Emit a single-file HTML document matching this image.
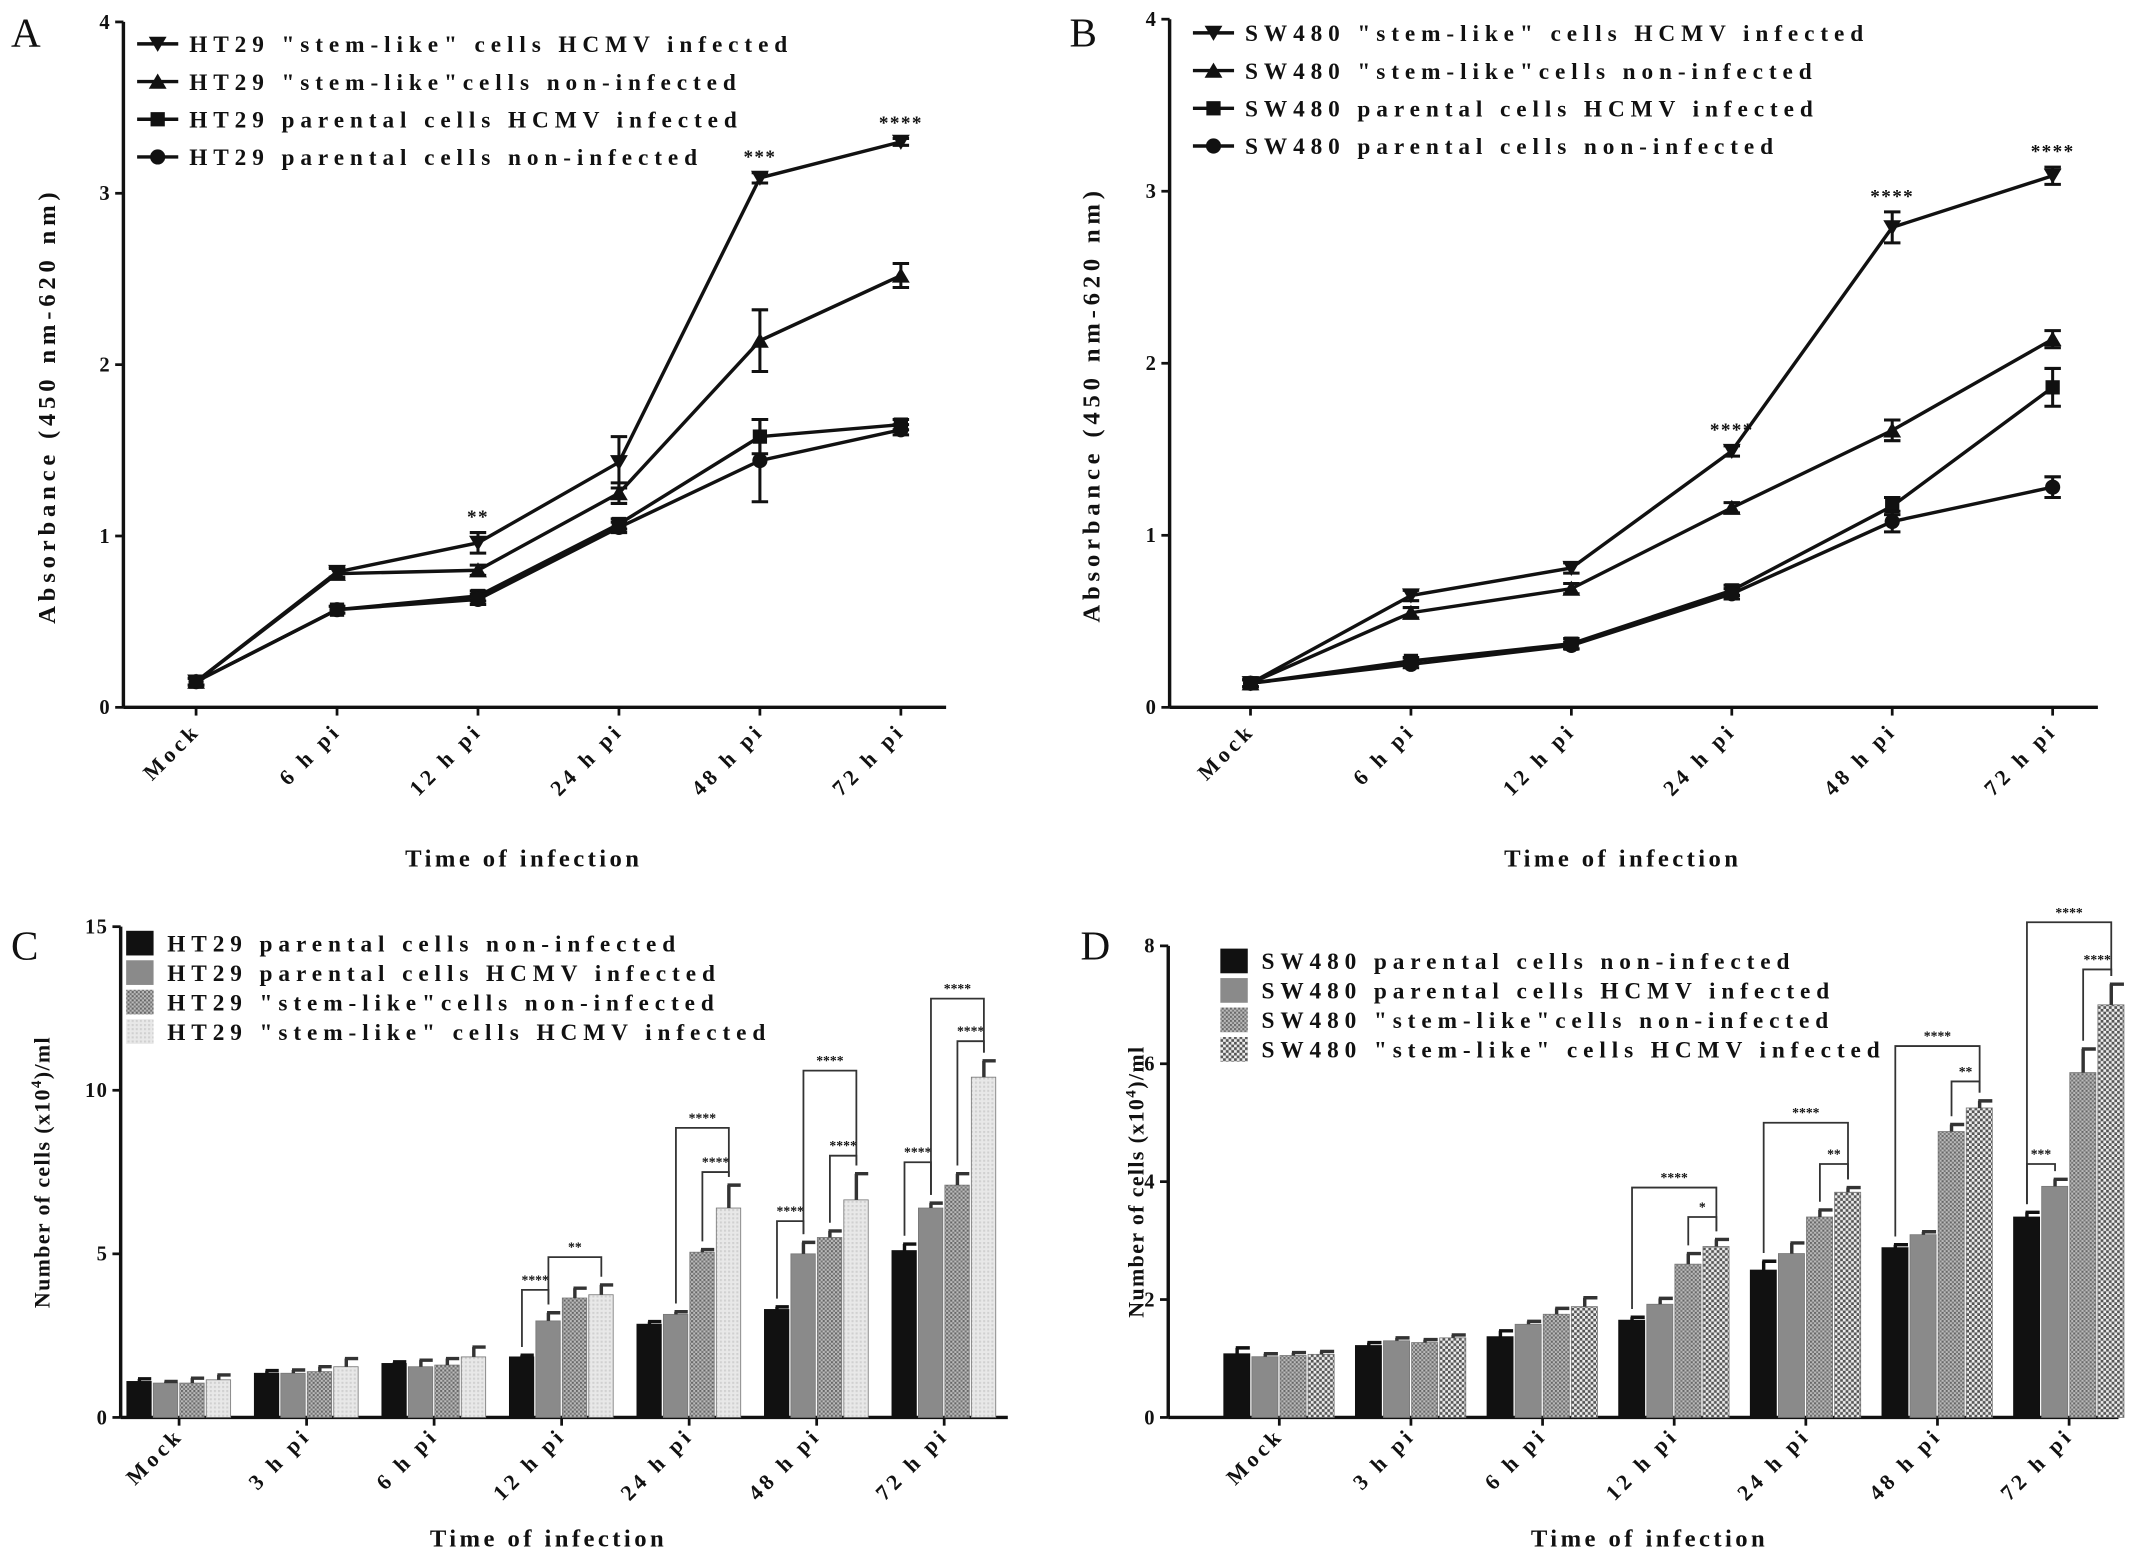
<!DOCTYPE html>
<html><head><meta charset="utf-8"><style>
html,body{margin:0;padding:0;background:#fff;width:2150px;height:1560px;overflow:hidden}
svg{display:block}
text{font-family:"Liberation Serif",serif;font-weight:bold;fill:#111}
</style></head><body>
<svg id="fig" width="2150" height="1560" viewBox="0 0 1568 1138" preserveAspectRatio="none" xmlns="http://www.w3.org/2000/svg">
<defs>
<pattern id="dots" width="3" height="3" patternUnits="userSpaceOnUse"><rect width="3" height="3" fill="#bbb"/><rect width="1.5" height="1.5" fill="#666"/><rect x="1.5" y="1.5" width="1.5" height="1.5" fill="#777"/></pattern>
<pattern id="light" width="3" height="3" patternUnits="userSpaceOnUse"><rect width="3" height="3" fill="#e8e8e8"/><rect width="1.5" height="1.5" fill="#d0d0d0"/></pattern>
<pattern id="check" width="4" height="4" patternUnits="userSpaceOnUse"><rect width="4" height="4" fill="#eee"/><rect width="2" height="2" fill="#555"/><rect x="2" y="2" width="2" height="2" fill="#555"/></pattern>
</defs>
</svg>
<script>
// ---- Panel A data ----
const catsA = ["Mock","6 h pi","12 h pi","24 h pi","48 h pi","72 h pi"];
const A_stemInf = [0.15,0.79,0.96,1.43,3.09,3.30];
const A_stemNon = [0.15,0.78,0.80,1.25,2.14,2.52];
const A_parInf  = [0.15,0.57,0.65,1.07,1.58,1.65];
const A_parNon  = [0.15,0.57,0.63,1.05,1.44,1.62];
const A_errStemInf = [0.02,0.03,0.06,0.15,0.03,0.02];
const A_errStemNon = [0.02,0.03,0.03,0.06,0.18,0.07];
const A_errParInf  = [0.02,0.02,0.03,0.03,0.10,0.03];
const A_errParNon  = [0.02,0.02,0.03,0.03,0.24,0.03];
const A_stars = ["","","**","","***","****"];
const yTicksA = [0,1,2,3,4];
// ---- Panel B data ----
const catsB = ["Mock","6 h pi","12 h pi","24 h pi","48 h pi","72 h pi"];
const B_stemInf = [0.14,0.65,0.81,1.49,2.79,3.09];
const B_stemNon = [0.14,0.55,0.69,1.16,1.61,2.14];
const B_parInf  = [0.14,0.27,0.37,0.68,1.17,1.86];
const B_parNon  = [0.14,0.25,0.36,0.66,1.08,1.28];
const B_errStemInf = [0.02,0.03,0.03,0.03,0.09,0.05];
const B_errStemNon = [0.02,0.03,0.03,0.03,0.06,0.05];
const B_errParInf  = [0.02,0.02,0.03,0.03,0.05,0.11];
const B_errParNon  = [0.02,0.02,0.02,0.03,0.06,0.06];
const B_stars = ["","","","****","****","****"];
const yTicksB = [0,1,2,3,4];
// ---- Panel C data ----
const catsC = ["Mock","3 h pi","6 h pi","12 h pi","24 h pi","48 h pi","72 h pi"];
const C_parNon  = [1.1,1.35,1.65,1.85,2.85,3.3,5.1];
const C_parInf  = [1.05,1.35,1.55,2.95,3.15,5.0,6.4];
const C_stemNon = [1.05,1.4,1.6,3.65,5.05,5.5,7.1];
const C_stemInf = [1.15,1.55,1.85,3.75,6.4,6.65,10.4];
const C_err = [[0.08,0.08,0.05,0.05,0.08,0.08,0.2],[0.05,0.1,0.2,0.25,0.08,0.35,0.15],[0.15,0.15,0.2,0.3,0.08,0.2,0.35],[0.15,0.25,0.3,0.3,0.7,0.8,0.5]];
const yTicksC = [0,5,10,15];
// ---- Panel D data ----
const catsD = ["Mock","3 h pi","6 h pi","12 h pi","24 h pi","48 h pi","72 h pi"];
const D_parNon  = [1.08,1.22,1.37,1.65,2.5,2.88,3.4];
const D_parInf  = [1.03,1.3,1.58,1.92,2.78,3.1,3.92];
const D_stemNon = [1.05,1.27,1.75,2.6,3.4,4.85,5.85];
const D_stemInf = [1.07,1.35,1.88,2.9,3.82,5.25,7.0];
const D_err = [[0.1,0.05,0.1,0.05,0.15,0.05,0.08],[0.05,0.05,0.05,0.1,0.18,0.05,0.12],[0.05,0.05,0.1,0.18,0.12,0.12,0.4],[0.05,0.05,0.15,0.12,0.08,0.12,0.35]];
const yTicksD = [0,2,4,6,8];

const svg = document.getElementById('fig');
const NS = 'http://www.w3.org/2000/svg';
function el(tag, attrs, name, parent){
  const e = document.createElementNS(NS, tag);
  for (const k in attrs) e.setAttribute(k, attrs[k]);
  
  
  (parent||svg).appendChild(e);
  return e;
}
function txt(s, attrs, name, parent){ const t = el('text', attrs, name, parent); t.textContent = s; return t; }

function marker(type, x, y, g, name){
  const s = 6.5;
  if (type==='down') el('polygon',{points:`${x-s},${y-s*0.8} ${x+s},${y-s*0.8} ${x},${y+s*0.9}`,fill:'#111'},name,g);
  else if (type==='up') el('polygon',{points:`${x-s},${y+s*0.8} ${x+s},${y+s*0.8} ${x},${y-s*0.9}`,fill:'#111'},name,g);
  else if (type==='sq') el('rect',{x:x-s*0.8,y:y-s*0.8,width:s*1.6,height:s*1.6,fill:'#111'},name,g);
  else el('circle',{cx:x,cy:y,r:s*0.85,fill:'#111'},name,g);
}

function yAxis(x0, yTop, yBot, ticks, ymax){
  const g = el('g',{},'y-axis');
  el('line',{x1:x0,y1:yTop,x2:x0,y2:yBot,stroke:'#111','stroke-width':2.5},'y-axis-line',g);
  ticks.forEach(t=>{
    const y = yBot - (yBot-yTop)*t/ymax;
    el('line',{x1:x0-6,y1:y,x2:x0,y2:y,stroke:'#111','stroke-width':2},'y-tick',g);
    txt(String(t),{x:x0-9,y:y+5,'text-anchor':'end','font-size':15,'letter-spacing':1},'y-tick-label',g);
  });
  return g;
}

function linePanel(o){
  const x = i => o.x0 + o.dx*i;
  const y = v => o.yBot - (o.yBot-o.yTop)*v/4;
  yAxis(o.ax, o.yTop, o.yBot, o.yticks, 4);
  const g = el('g',{},o.name+'-x-axis');
  el('line',{x1:o.ax,y1:o.yBot,x2:o.axEnd,y2:o.yBot,stroke:'#111','stroke-width':2.5},'x-axis-line',g);
  o.cats.forEach((c,i)=>{
    el('line',{x1:x(i),y1:o.yBot,x2:x(i),y2:o.yBot+6,stroke:'#111','stroke-width':2},'x-tick',g);
    txt(c,{x:x(i)+4,y:o.yBot+18,'text-anchor':'end','font-size':16,'letter-spacing':3,transform:`rotate(-45 ${x(i)+4} ${o.yBot+18})`},'x-tick-label',g);
  });
  txt('Absorbance (450 nm-620 nm)',{x:o.ytx,y:(o.yTop+o.yBot)/2+30,'text-anchor':'middle','font-size':18,'letter-spacing':3.5,transform:`rotate(-90 ${o.ytx} ${(o.yTop+o.yBot)/2+30})`},'y-axis-title');
  txt('Time of infection',{x:(o.ax+o.axEnd)/2-8,y:632,'text-anchor':'middle','font-size':18,'letter-spacing':2.5},'x-axis-title');
  const types=['down','up','sq','ci'];
  o.series.forEach((s,si)=>{
    const sg = el('g',{},'series-'+o.snames[si]);
    el('polyline',{points:s.map((v,i)=>`${x(i)},${y(v)}`).join(' '),fill:'none',stroke:'#111','stroke-width':2.5},'series-line',sg);
    s.forEach((v,i)=>{
      const e=o.errs[si][i];
      el('path',{d:`M${x(i)},${y(v+e)}V${y(v-e)}M${x(i)-6},${y(v+e)}h12M${x(i)-6},${y(v-e)}h12`,stroke:'#111','stroke-width':2.2,fill:'none'},'error-bar',sg);
      marker(types[si],x(i),y(v),sg,'data-point');
    });
  });
  o.stars.forEach((st,i)=>{ if(st) txt(st,{x:x(i),y:y(o.series[0][i]+o.errs[0][i])-7,'text-anchor':'middle','font-size':14,fill:'#555','letter-spacing':1},'significance-stars'); });
  const lg = el('g',{},'legend');
  o.legend.forEach((l,i)=>{
    const ly = o.legY + i*27.5;
    el('line',{x1:o.legX,y1:ly,x2:o.legX+30,y2:ly,stroke:'#111','stroke-width':2.5},'legend-line',lg);
    marker(types[i],o.legX+15,ly,lg,'legend-marker');
    txt(l,{x:o.legX+38,y:ly+6,'font-size':17,'letter-spacing':4.3},'legend-entry',lg);
  });
  txt(o.letter,{x:o.letX,y:34,'font-size':30,style:'font-weight:normal'},'panel-label');
}

linePanel({name:'a',x0:143,dx:102.8,ax:90,axEnd:690,yTop:16,yBot:516,yticks:yTicksA,cats:catsA,ytx:40,
  series:[A_stemInf,A_stemNon,A_parInf,A_parNon],errs:[A_errStemInf,A_errStemNon,A_errParInf,A_errParNon],stars:A_stars,
  snames:['stem-infected','stem-non-infected','parental-infected','parental-non-infected'],
  legend:['HT29 "stem-like" cells HCMV infected','HT29 "stem-like"cells non-infected','HT29 parental cells HCMV infected','HT29 parental cells non-infected'],legX:100,legY:32,letter:'A',letX:8});
linePanel({name:'b',x0:912,dx:117,ax:853,axEnd:1530,yTop:14,yBot:516,yticks:yTicksB,cats:catsB,ytx:802,
  series:[B_stemInf,B_stemNon,B_parInf,B_parNon],errs:[B_errStemInf,B_errStemNon,B_errParInf,B_errParNon],stars:B_stars,
  snames:['stem-infected','stem-non-infected','parental-infected','parental-non-infected'],
  legend:['SW480 "stem-like" cells HCMV infected','SW480 "stem-like"cells non-infected','SW480 parental cells HCMV infected','SW480 parental cells non-infected'],legX:870,legY:24,letter:'B',letX:780});

function barPanel(o){
  const y = v => o.yBot - (o.yBot-o.yTop)*v/o.ymax;
  yAxis(o.ax, o.yTop, o.yBot, o.yticks, o.ymax);
  const g = el('g',{},o.name+'-x-axis');
  el('line',{x1:o.ax,y1:o.yBot,x2:o.axEnd,y2:o.yBot,stroke:'#111','stroke-width':2.5},'x-axis-line',g);
  const fills=o.fills;
  o.cats.forEach((c,i)=>{
    const gx = o.g0 + o.gdx*i;
    const cx = gx + o.bw*2;
    el('line',{x1:cx,y1:o.yBot,x2:cx,y2:o.yBot+6,stroke:'#111','stroke-width':2},'x-tick',g);
    txt(c,{x:cx+4,y:o.yBot+14,'text-anchor':'end','font-size':16,'letter-spacing':3,transform:`rotate(-45 ${cx+4} ${o.yBot+14})`},'x-tick-label',g);
    o.series.forEach((s,si)=>{
      const bx = gx + si*o.bw;
      const v=s[i], e=o.errs[si][i];
      el('rect',{x:bx+0.5,y:y(v),width:o.bw-1.5,height:o.yBot-y(v),fill:fills[si],stroke:si===0?'#111':'#777','stroke-width':0.6},'bar-'+o.snames[si]+'-'+i);
      el('path',{d:`M${bx+o.bw/2},${y(v)}V${y(v+e)}M${bx+o.bw/2-1},${y(v+e)}h${o.bw/2}`,stroke:si===0?'#111':'#333','stroke-width':2.5,fill:'none'},'error-bar');
    });
  });
  o.brackets.forEach(b=>{
    const gx = o.g0 + o.gdx*b[0];
    const x1 = gx + b[1]*o.bw + o.bw/2, x2 = gx + b[2]*o.bw + o.bw/2;
    const top = y(b[3]);
    const h1 = y(o.series[b[1]][b[0]]+o.errs[b[1]][b[0]])-6, h2 = y(o.series[b[2]][b[0]]+o.errs[b[2]][b[0]])-6;
    el('path',{d:`M${x1},${h1}V${top}H${x2}V${h2}`,stroke:'#333','stroke-width':1.3,fill:'none'},'significance-bracket');
    txt(b[4],{x:(x1+x2)/2,y:top-4,'text-anchor':'middle','font-size':10,fill:'#333'},'significance-stars');
  });
  txt('Time of infection',{x:o.xtx,y:1128,'text-anchor':'middle','font-size':18,'letter-spacing':2.5},'x-axis-title');
  const yt=o.ytx, cy=(o.yTop+o.yBot)/2;
  const t = el('text',{x:yt,y:cy,'text-anchor':'middle','font-size':16,'letter-spacing':1,transform:`rotate(-90 ${yt} ${cy})`},'y-axis-title');
  t.appendChild(document.createTextNode('Number of cells (x10'));
  const sup = el('tspan',{dy:-6,'font-size':11},'superscript',t); sup.textContent='4';
  const rest = el('tspan',{dy:6},'title-rest',t); rest.textContent=')/ml';
  const lg = el('g',{},'legend');
  o.legend.forEach((l,i)=>{
    const ly = o.legY + i*21.5;
    el('rect',{x:o.legX,y:ly-9,width:20,height:18,fill:fills[i]},'legend-swatch',lg);
    txt(l,{x:o.legX+30,y:ly+6,'font-size':17,'letter-spacing':4.3},'legend-entry',lg);
  });
  txt(o.letter,{x:o.letX,y:700,'font-size':30,style:'font-weight:normal'},'panel-label');
}

barPanel({name:'c',ax:88,axEnd:735,yTop:676,yBot:1034,ymax:15,yticks:yTicksC,cats:catsC,g0:92,gdx:93,bw:19.3,ytx:36,xtx:400,
  series:[C_parNon,C_parInf,C_stemNon,C_stemInf],errs:C_err,fills:['#111','#8a8a8a','url(#dots)','url(#light)'],
  snames:['parental-non','parental-inf','stem-non','stem-inf'],
  brackets:[[3,0,1,3.9,'****'],[3,1,3,4.9,'**'],[4,1,3,8.85,'****'],[4,2,3,7.5,'****'],[5,0,1,6.0,'****'],[5,2,3,8.0,'****'],[5,1,3,10.6,'****'],[6,0,1,7.8,'****'],[6,2,3,11.5,'****'],[6,1,3,12.8,'****']],
  legend:['HT29 parental cells non-infected','HT29 parental cells HCMV infected','HT29 "stem-like"cells non-infected','HT29 "stem-like" cells HCMV infected'],legX:92,legY:688,letter:'C',letX:8});
barPanel({name:'d',ax:852,axEnd:1545,yTop:690,yBot:1034,ymax:8,yticks:yTicksD,cats:catsD,g0:892,gdx:96,bw:20.5,ytx:834,xtx:1203,
  series:[D_parNon,D_parInf,D_stemNon,D_stemInf],errs:D_err,fills:['#111','#8a8a8a','url(#dots)','url(#check)'],
  snames:['parental-non','parental-inf','stem-non','stem-inf'],
  brackets:[[3,0,3,3.9,'****'],[3,2,3,3.4,'*'],[4,0,3,5.0,'****'],[4,2,3,4.3,'**'],[5,0,3,6.3,'****'],[5,2,3,5.7,'**'],[6,0,1,4.3,'***'],[6,0,3,8.4,'****'],[6,2,3,7.6,'****']],
  legend:['SW480 parental cells non-infected','SW480 parental cells HCMV infected','SW480 "stem-like"cells non-infected','SW480 "stem-like" cells HCMV infected'],legX:890,legY:701,letter:'D',letX:788});
</script>
</body></html>
